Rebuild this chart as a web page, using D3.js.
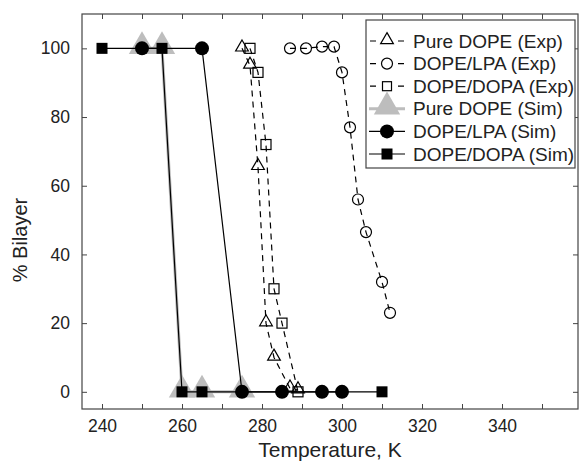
<!DOCTYPE html>
<html>
<head>
<meta charset="utf-8">
<script src="https://cdn.jsdelivr.net/npm/d3@7"></script>
<style>
	body { margin: 0; background: #fff; }
	text { font-family: "Liberation Sans", Arial, sans-serif; fill: #222; }
</style>
</head>
<body>
<div id="chart"></div>
<script>
//experimental data (temperature K, % bilayer)
var pureDopeExpT = [275, 277, 279, 281, 283, 287, 289];
var pureDopeExpB = [100, 95, 65.5, 20, 10, 1, 0.5];
var lpaExpT = [287, 291, 295, 298, 300, 302, 304, 306, 310, 312];
var lpaExpB = [100, 100, 100.5, 100.5, 93, 77, 56, 46.5, 32, 23];
var dopaExpT = [277, 279, 281, 283, 285, 289];
var dopaExpB = [100, 93, 72, 30, 20, 0];

//simulation data
var pureDopeSimT = [250, 255, 260, 265, 275];
var pureDopeSimB = [100, 100, 0, 0, 0];
var lpaSimT = [250, 265, 275, 285, 295, 300];
var lpaSimB = [100, 100, 0, 0, 0, 0];
var dopaSimT = [240, 255, 260, 265, 310];
var dopaSimB = [100, 100, 0, 0, 0];

//axis ticks
var xTicks = [240, 250, 260, 270, 280, 290, 300, 310, 320, 330, 340, 350];
var xLabels = [240, 260, 280, 300, 320, 340];
var yTicks = [0, 20, 40, 60, 80, 100];

var legendNames = ["Pure DOPE (Exp)", "DOPE/LPA (Exp)", "DOPE/DOPA (Exp)",
	"Pure DOPE (Sim)", "DOPE/LPA (Sim)", "DOPE/DOPA (Sim)"];

var width = 580;
var height = 464;
var pLeft = 82, pRight = 578, pTop = 14, pBottom = 409;

var svg = d3.select("#chart").append("svg")
	.attr("width", width)
	.attr("height", height);

var x = d3.scaleLinear().domain([235, 359]).range([pLeft, pRight]);
var y = d3.scaleLinear().domain([-5, 110]).range([pBottom, pTop]);

//zip two arrays into points
function pts(xs, ys)
{
	return xs.map(function(v, i) { return [v, ys[i]]; });
}

var line = d3.line()
	.x(function(d) { return x(d[0]); })
	.y(function(d) { return y(d[1]); });

var triangle = d3.symbol().type(d3.symbolTriangle);

//axes, ticks pointing inward
var xAxis = d3.axisBottom(x).tickValues(xTicks).tickSizeInner(-5).tickSizeOuter(0).tickPadding(11)
	.tickFormat(function(d) { return xLabels.includes(d) ? d : ""; });
var xTop = d3.axisTop(x).tickValues(xTicks).tickSizeInner(-5).tickSizeOuter(0).tickFormat("");
var yAxis = d3.axisLeft(y).tickValues(yTicks).tickSizeInner(-5).tickSizeOuter(0).tickPadding(12);
var yRight = d3.axisRight(y).tickValues(yTicks).tickSizeInner(-5).tickSizeOuter(0).tickFormat("");

[
	[xAxis, "translate(0," + pBottom + ")"],
	[xTop, "translate(0," + pTop + ")"],
	[yAxis, "translate(" + pLeft + ",0)"],
	[yRight, "translate(" + pRight + ",0)"]
].forEach(function(a)
{
	var g = svg.append("g").attr("transform", a[1]).call(a[0]);
	g.select(".domain").remove();
	g.selectAll("line").attr("stroke", "#444");
	g.selectAll("text").style("font-size", "17.5px").style("font-family", "Liberation Sans, Arial, sans-serif").attr("fill", "#222");
});

svg.append("rect")
	.attr("x", pLeft).attr("y", pTop)
	.attr("width", pRight - pLeft).attr("height", pBottom - pTop)
	.attr("fill", "none").attr("stroke", "#444").attr("stroke-width", 1.2);

//axis titles
svg.append("text")
	.attr("x", 330).attr("y", 457)
	.attr("text-anchor", "middle")
	.style("font-size", "21px")
	.text("Temperature, K");

svg.append("text")
	.attr("transform", "translate(27,240) rotate(-90)")
	.attr("text-anchor", "middle")
	.style("font-size", "20px")
	.text("% Bilayer");

var plot = svg.append("g");

//grey simulation triangles go underneath
var pds = pts(pureDopeSimT, pureDopeSimB);
plot.append("path").datum(pds).attr("d", line)
	.attr("fill", "none").attr("stroke", "#bdbdbd").attr("stroke-width", 3);
plot.selectAll(".gtri").data(pds).enter().append("path")
	.attr("transform", function(d) { return "translate(" + x(d[0]) + "," + (y(d[1]) - 2) + ")"; })
	.attr("d", triangle.size(300))
	.attr("fill", "#bdbdbd");

//simulation lines and markers
var ls = pts(lpaSimT, lpaSimB);
var ds = pts(dopaSimT, dopaSimB);
[ls, ds].forEach(function(s)
{
	plot.append("path").datum(s).attr("d", line)
		.attr("fill", "none").attr("stroke", "#000").attr("stroke-width", 1.2);
});
plot.selectAll(".scirc").data(ls).enter().append("circle")
	.attr("cx", function(d) { return x(d[0]); })
	.attr("cy", function(d) { return y(d[1]); })
	.attr("r", 7).attr("fill", "#000");
plot.selectAll(".ssq").data(ds).enter().append("rect")
	.attr("x", function(d) { return x(d[0]) - 5.5; })
	.attr("y", function(d) { return y(d[1]) - 5.5; })
	.attr("width", 11).attr("height", 11).attr("fill", "#000");

//experimental dashed lines with open markers
var pe = pts(pureDopeExpT, pureDopeExpB);
var le = pts(lpaExpT, lpaExpB);
var de = pts(dopaExpT, dopaExpB);
[pe, le, de].forEach(function(s)
{
	plot.append("path").datum(s).attr("d", line)
		.attr("fill", "none").attr("stroke", "#000").attr("stroke-width", 1.2)
		.attr("stroke-dasharray", "6,5");
});
plot.selectAll(".etri").data(pe).enter().append("path")
	.attr("transform", function(d) { return "translate(" + x(d[0]) + "," + (y(d[1]) - 1) + ")"; })
	.attr("d", triangle.size(70))
	.attr("fill", "none").attr("stroke", "#000").attr("stroke-width", 1.2);
plot.selectAll(".ecirc").data(le).enter().append("circle")
	.attr("cx", function(d) { return x(d[0]); })
	.attr("cy", function(d) { return y(d[1]); })
	.attr("r", 5.5).attr("fill", "none").attr("stroke", "#000").attr("stroke-width", 1.2);
plot.selectAll(".esq").data(de).enter().append("rect")
	.attr("x", function(d) { return x(d[0]) - 5; })
	.attr("y", function(d) { return y(d[1]) - 5; })
	.attr("width", 10).attr("height", 10)
	.attr("fill", "none").attr("stroke", "#000").attr("stroke-width", 1.2);

//legend
var lg = svg.append("g");
lg.append("rect")
	.attr("x", 366).attr("y", 20).attr("width", 209).attr("height", 148)
	.attr("fill", "#fff").attr("stroke", "#444").attr("stroke-width", 1.2);

legendNames.forEach(function(name, i)
{
	var cy = 41 + i * 22.6;
	var cx = 387;
	var sim = i >= 3;
	var row = lg.append("g");
	if(i == 3)
	{
		row.append("line").attr("x1", 369).attr("x2", 405).attr("y1", cy).attr("y2", cy)
			.attr("stroke", "#bdbdbd").attr("stroke-width", 3);
		row.append("path").attr("transform", "translate(" + cx + "," + (cy - 2) + ")")
			.attr("d", triangle.size(300)).attr("fill", "#bdbdbd");
	}
	else
	{
		row.append("line").attr("x1", sim ? 369 : 370).attr("x2", sim ? 405 : 404).attr("y1", cy).attr("y2", cy)
			.attr("stroke", "#000").attr("stroke-width", 1.2)
			.attr("stroke-dasharray", sim ? null : "6,22");
	}
	if(i == 0)
		row.append("path").attr("transform", "translate(" + cx + "," + (cy - 1) + ")")
			.attr("d", triangle.size(70)).attr("fill", "none").attr("stroke", "#000").attr("stroke-width", 1.2);
	if(i == 1)
		row.append("circle").attr("cx", cx).attr("cy", cy).attr("r", 5.5)
			.attr("fill", "none").attr("stroke", "#000").attr("stroke-width", 1.2);
	if(i == 2)
		row.append("rect").attr("x", cx - 4.5).attr("y", cy - 4.5).attr("width", 9).attr("height", 9)
			.attr("fill", "none").attr("stroke", "#000").attr("stroke-width", 1.2);
	if(i == 4)
		row.append("circle").attr("cx", cx).attr("cy", cy).attr("r", 7).attr("fill", "#000");
	if(i == 5)
		row.append("rect").attr("x", cx - 5.5).attr("y", cy - 5.5).attr("width", 11).attr("height", 11).attr("fill", "#000");

	row.append("text")
		.attr("x", 413).attr("y", cy + 6.5)
		.style("font-size", "19px")
		.text(name);
});
</script>
</body>
</html>
